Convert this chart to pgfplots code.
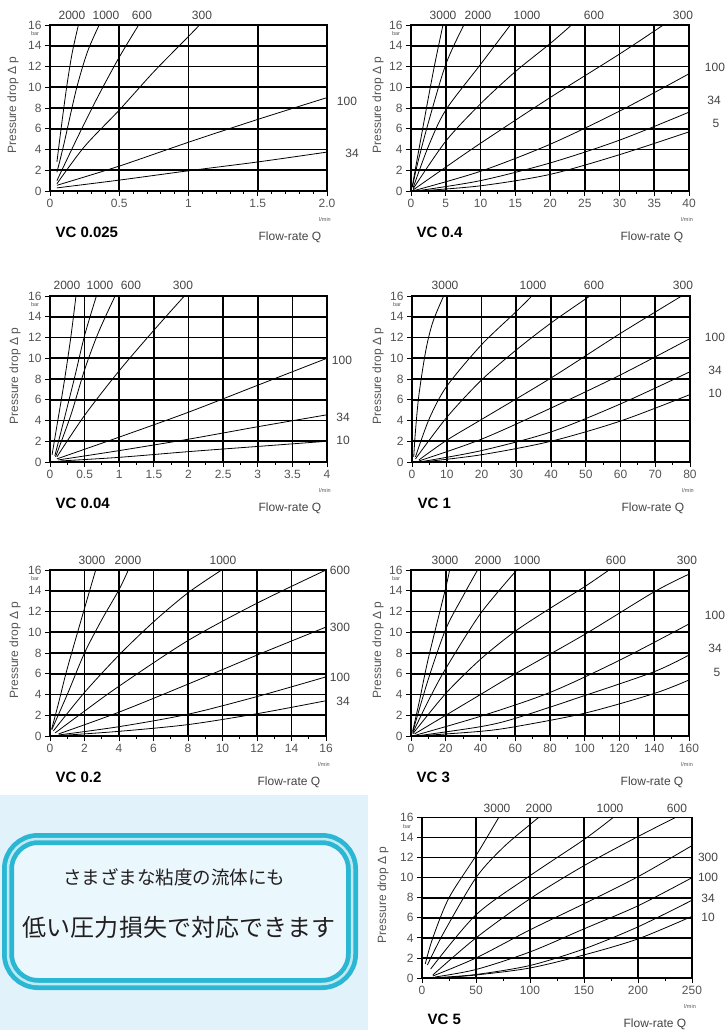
\documentclass[border=0pt]{standalone}
\usepackage{pgfplots}
\pgfplotsset{compat=1.18}
\usepackage{fontspec}
\setmainfont{Liberation Sans}
\newfontfamily\cjk{Noto Sans CJK JP}
\definecolor{tickgray}{HTML}{555555}
\definecolor{lblgray}{HTML}{444444}
\definecolor{bgblue}{HTML}{E1F2FB}
\definecolor{boxfill}{HTML}{EAF7FD}
\definecolor{boxcyan}{HTML}{2BB7D3}
\definecolor{boxlight}{HTML}{BFEAF4}
\definecolor{jtext}{HTML}{231F20}
\newcommand\lbl{\fontsize{12}{12}\selectfont}
\newcommand\ttl{\fontsize{15}{15}\selectfont\bfseries}
\newcommand\tny{\fontsize{5.5}{5.5}\selectfont}
\pgfplotsset{
 vc/.style={
  scale only axis, anchor=south west,
  ymin=0, ymax=16, ytick={0,2,...,16},
  grid=major,
  major grid style={black, line width=1.6pt},
  axis line style={black, line width=1.6pt},
  tick pos=left, tick align=outside,
  major tick length=5pt, minor tick length=3pt,
  tick style={black, line width=0.9pt},
  tick label style={font=\lbl, text=tickgray},
  /pgf/number format/assume math mode=true,
  cycle list={{black, solid}},
  every axis plot post/.append style={black, solid, line width=0.8pt, smooth, mark=none},
 }
}
\newcommand\decor[3]{%
 \node[anchor=west,font=\ttl] at ([xshift=2pt,yshift=-41pt]#1.south west) {#2};
 \node[font=\lbl,text=lblgray] at ([xshift=-37pt,yshift=-46pt]#1.south east) {Flow-rate Q};
 \node[font=\tny,text=tickgray] at ([xshift=-2pt,yshift=-29pt]#1.south east) {l/min};
 \node[font=\tny,text=tickgray] at ([xshift=-15pt,yshift=-9pt]#1.north west) {bar};
 \node[rotate=90,font=\lbl,text=tickgray] at ([xshift=-#3pt,yshift=3pt]#1.west) {Pressure drop Δ p};
}
\newcommand\cl[3]{\node[font=\lbl,text=lblgray] at (#1pt,-#2pt) {#3};}
\begin{document}
\begin{tikzpicture}
\path[use as bounding box] (0pt,0pt) rectangle (725pt,-1030pt);
\fill[white] (0pt,0pt) rectangle (725pt,-1030pt);
\fill[bgblue] (0pt,-795pt) rectangle (368pt,-1030pt);
\draw[rounded corners=30pt, line width=12pt, draw=boxcyan, fill=boxfill] (8pt,-839pt) rectangle (352pt,-984pt);
\draw[rounded corners=30pt, line width=2.5pt, draw=boxlight] (8pt,-839pt) rectangle (352pt,-984pt);
\node[font=\cjk\fontsize{18.5}{18.5}\selectfont, text=jtext] at (174pt,-877pt) {さまざまな粘度の流体にも};
\node[font=\cjk\fontsize{24}{24}\selectfont, text=jtext] at (179pt,-927pt) {低い圧力損失で対応できます};

% Panel 1: VC 0.025
\begin{axis}[vc, name=p1, at={(50pt,-191pt)}, width=277pt, height=166pt,
  xmin=0, xmax=2, xtick={0,0.5,1,1.5,2}, xticklabels={0,0.5,1,1.5,2.0}, minor x tick num=4]
\addplot coordinates {(0.05,2.8) (0.08,6.0) (0.12,10.0) (0.16,13.3) (0.205,16)};
\addplot coordinates {(0.05,1.8) (0.1,4.5) (0.19,9.8) (0.27,13.4) (0.355,16)};
\addplot coordinates {(0.05,1.0) (0.2,5.2) (0.35,9.2) (0.5,12.9) (0.64,16)};
\addplot coordinates {(0.05,0.7) (0.25,4.3) (0.5,7.8) (0.75,11.5) (1.0,14.9) (1.08,16)};
\addplot coordinates {(0.05,0.55) (0.5,2.4) (1,4.7) (1.5,6.9) (2,9.0)};
\addplot coordinates {(0.05,0.3) (0.5,1.05) (1,1.95) (1.5,2.8) (2,3.75)};
\end{axis}
\decor{p1}{VC 0.025}{37}
\cl{72}{15}{2000}\cl{106}{15}{1000}\cl{142}{15}{600}\cl{202}{15}{300}
\cl{347}{101}{100}\cl{352}{153}{34}

% Panel 2: VC 0.4
\begin{axis}[vc, name=p2, at={(411pt,-191pt)}, width=278pt, height=166pt,
  xmin=0, xmax=40, xtick={0,5,...,40}, xticklabels={0,5,10,15,20,25,30,35,40}, minor x tick num=1]
\addplot coordinates {(0.2,0.5) (1,3.5) (2.5,9) (3.5,12.5) (4.6,16)};
\addplot coordinates {(0.2,0.4) (1,2.8) (2.5,6.6) (5,12.2) (7.6,16)};
\addplot coordinates {(0.3,0.3) (2.5,4.3) (5,7.8) (10,12.2) (14.3,16)};
\addplot coordinates {(0.3,0.2) (5,4.8) (10,8.4) (15,11.5) (20,14.2) (23.1,16)};
\addplot coordinates {(0.3,0.1) (5,2.3) (10,4.6) (20,9.0) (30,13.2) (36.3,16)};
\addplot coordinates {(0.5,0.05) (10,1.9) (20,4.5) (30,7.7) (40,11.3)};
\addplot coordinates {(1,0.03) (10,1.0) (20,2.7) (30,4.9) (40,7.6)};
\addplot coordinates {(1,0) (10,0.5) (20,1.6) (30,3.5) (40,5.7)};
\end{axis}
\decor{p2}{VC 0.4}{33}
\cl{443}{15}{3000}\cl{478}{15}{2000}\cl{527}{15}{1000}\cl{594}{15}{600}\cl{683}{15}{300}
\cl{715}{67}{100}\cl{714}{100}{34}\cl{716}{123}{5}

% Panel 3: VC 0.04
\begin{axis}[vc, name=p3, at={(50pt,-462pt)}, width=277pt, height=166pt,
  xmin=0, xmax=4, xtick={0,0.5,...,4}, xticklabels={0,0.5,1,1.5,2,2.5,3,3.5,4}, minor x tick num=1]
\addplot coordinates {(0.03,0.7) (0.1,3.5) (0.2,7.5) (0.3,12) (0.375,16)};
\addplot coordinates {(0.07,0.6) (0.2,4) (0.35,8) (0.5,12.2) (0.67,16)};
\addplot coordinates {(0.08,0.5) (0.3,4.5) (0.5,8.9) (0.7,12.5) (0.94,16)};
\addplot coordinates {(0.1,0.5) (0.5,4.5) (1,8.8) (1.5,12.7) (1.94,16)};
\addplot coordinates {(0.1,0.3) (1,2.4) (2,4.8) (3,7.4) (4,10)};
\addplot coordinates {(0.12,0.2) (1,1.1) (2,2.2) (3,3.4) (4,4.55)};
\addplot coordinates {(0.15,0.1) (1,0.45) (2,1.0) (3,1.5) (4,2.0)};
\end{axis}
\decor{p3}{VC 0.04}{35}
\cl{67}{285}{2000}\cl{100}{285}{1000}\cl{131}{285}{600}\cl{183}{285}{300}
\cl{342}{360}{100}\cl{343}{417}{34}\cl{343}{440}{10}

% Panel 4: VC 1
\begin{axis}[vc, name=p4, at={(412pt,-462pt)}, width=278pt, height=166pt,
  xmin=0, xmax=80, xtick={0,10,...,80}, xticklabels={0,10,20,30,40,50,60,70,80}, minor x tick num=1]
\addplot coordinates {(0.5,0.5) (1,3) (2,6.5) (4,10.8) (6,13.5) (9.1,16)};
\addplot coordinates {(1,0.5) (5,4.2) (10,7.3) (20,11.3) (30,14.5) (34.5,16)};
\addplot coordinates {(1,0.3) (10,4.3) (20,7.9) (30,10.8) (40,13.4) (51.2,16)};
\addplot coordinates {(2,0.2) (10,2.1) (20,4.1) (40,8.1) (60,12.4) (77.6,16)};
\addplot coordinates {(2,0.1) (20,2.2) (40,5.2) (60,8.4) (80,11.9)};
\addplot coordinates {(3,0.05) (20,1.1) (40,2.9) (60,5.6) (80,8.7)};
\addplot coordinates {(3,0) (20,0.7) (40,2.0) (60,3.95) (80,6.5)};
\end{axis}
\decor{p4}{VC 1}{34}
\cl{445}{285}{3000}\cl{533}{285}{1000}\cl{594}{285}{600}\cl{683}{285}{300}
\cl{715}{337}{100}\cl{715}{370}{34}\cl{715}{393}{10}

% Panel 5: VC 0.2
\begin{axis}[vc, name=p5, at={(50pt,-736pt)}, width=276pt, height=166pt,
  xmin=0, xmax=16, xtick={0,2,...,16}, xticklabels={0,2,4,6,8,10,12,14,16}, minor x tick num=1]
\addplot coordinates {(0.1,0.7) (0.5,3.2) (1,6.5) (2,12.3) (2.65,16)};
\addplot coordinates {(0.1,0.6) (1,4) (2,8) (3,11.2) (4,14.1) (4.54,16)};
\addplot coordinates {(0.2,0.5) (2,4.2) (4,7.8) (6,11) (8,13.8) (9.95,16)};
\addplot coordinates {(0.3,0.3) (2,2.4) (4,4.8) (8,9.2) (12,12.8) (16,16)};
\addplot coordinates {(0.5,0.2) (4,2.3) (8,5.0) (12,7.8) (16,10.5)};
\addplot coordinates {(0.5,0.1) (4,0.9) (8,2.1) (12,3.8) (16,5.7)};
\addplot coordinates {(0.6,0.05) (4,0.45) (8,1.1) (12,2.15) (16,3.4)};
\end{axis}
\decor{p5}{VC 0.2}{35}
\cl{92}{560}{3000}\cl{128}{560}{2000}\cl{223}{560}{1000}
\cl{340}{570}{600}\cl{340}{627}{300}\cl{340}{677}{100}\cl{343}{701}{34}

% Panel 6: VC 3
\begin{axis}[vc, name=p6, at={(411pt,-736pt)}, width=278pt, height=166pt,
  xmin=0, xmax=160, xtick={0,20,...,160}, xticklabels={0,20,40,60,80,100,120,140,160}, minor x tick num=1]
\addplot coordinates {(1,0.5) (5,3.5) (10,7.5) (20,14.3) (22.2,16)};
\addplot coordinates {(1,0.4) (10,5.5) (20,10.3) (30,13.5) (38.3,16)};
\addplot coordinates {(1,0.3) (10,3.4) (20,6.5) (40,11.8) (60.9,16)};
\addplot coordinates {(1,0.2) (20,4.1) (40,7.4) (60,10.1) (80,12.3) (100,14.4) (114,16)};
\addplot coordinates {(2,0.2) (20,2.0) (40,4.0) (60,6.0) (100,9.8) (140,13.9) (160,15.6)};
\addplot coordinates {(2,0.05) (40,1.9) (80,4.2) (120,7.3) (160,10.8)};
\addplot coordinates {(3,0) (40,0.9) (60,1.7) (100,3.9) (140,6.2) (160,7.8)};
\addplot coordinates {(3,0) (40,0.45) (60,0.9) (100,2.2) (140,4.1) (160,5.4)};
\end{axis}
\decor{p6}{VC 3}{33}
\cl{445}{560}{3000}\cl{488}{560}{2000}\cl{527}{560}{1000}\cl{616}{560}{600}\cl{687}{560}{300}
\cl{715}{615}{100}\cl{715}{648}{34}\cl{717}{672}{5}

% Panel 7: VC 5
\begin{axis}[vc, name=p7, at={(422pt,-978pt)}, width=270pt, height=160.5pt,
  xmin=0, xmax=250, xtick={0,50,...,250}, xticklabels={0,50,100,150,200,250}, minor x tick num=1]
\addplot coordinates {(3,1.4) (10,4) (25,8) (50,12.2) (71,16)};
\addplot coordinates {(5,1.3) (20,4.5) (50,10) (75,13) (100,15.3) (108,16)};
\addplot coordinates {(8,0.9) (50,6.3) (100,10.2) (150,13.8) (177,16)};
\addplot coordinates {(10,0.3) (50,4) (100,7.9) (150,11.2) (200,14.1) (234.6,16)};
\addplot coordinates {(10,0.2) (50,2.0) (100,4.8) (150,7.4) (200,10.1) (250,13.2)};
\addplot coordinates {(12,0.1) (50,0.85) (100,2.6) (150,4.9) (200,7.2) (250,10)};
\addplot coordinates {(15,0.05) (50,0.35) (100,1.25) (150,2.9) (200,5.1) (250,7.75)};
\addplot coordinates {(15,0) (50,0.3) (100,1.0) (150,2.3) (200,3.9) (250,6.15)};
\end{axis}
\decor{p7}{VC 5}{39}
\cl{497}{808}{3000}\cl{539}{808}{2000}\cl{610}{808}{1000}\cl{677}{808}{600}
\cl{708}{857}{300}\cl{708}{877}{100}\cl{708}{898}{34}\cl{708}{917}{10}
\end{tikzpicture}
\end{document}
